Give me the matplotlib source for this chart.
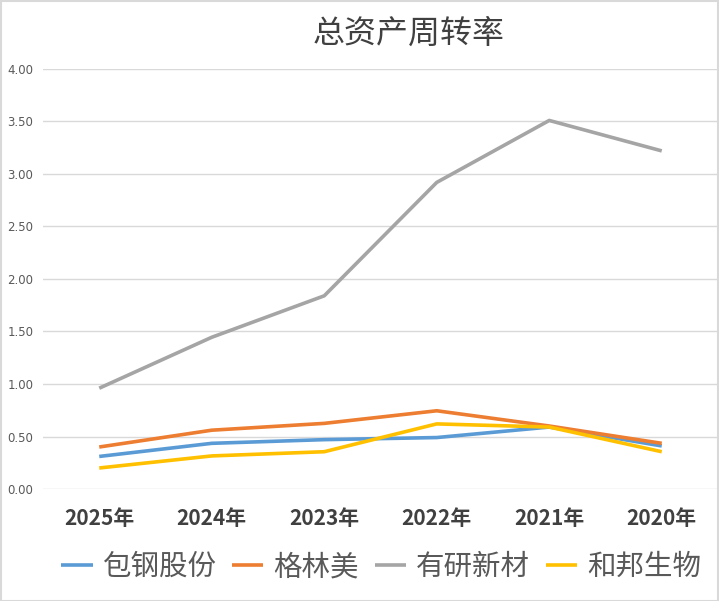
"""Recreate the total asset turnover line chart (总资产周转率)."""

import matplotlib.pyplot as plt
from matplotlib.patches import Rectangle

YEARS = ["2025年", "2024年", "2023年", "2022年", "2021年", "2020年"]
BAOGANG = [0.31, 0.435, 0.47, 0.49, 0.59, 0.41]
GEM = [0.40, 0.56, 0.625, 0.745, 0.60, 0.435]
YOUYAN = [0.96, 1.445, 1.84, 2.92, 3.51, 3.22]
HEBANG = [0.20, 0.315, 0.355, 0.62, 0.59, 0.355]

SERIES = [
    ("包钢股份", BAOGANG, "#5B9BD5"),
    ("格林美", GEM, "#ED7D31"),
    ("有研新材", YOUYAN, "#A5A5A5"),
    ("和邦生物", HEBANG, "#FFC000"),
]
Y_TICKS = [0.0, 0.5, 1.0, 1.5, 2.0, 2.5, 3.0, 3.5, 4.0]

plt.rcParams["font.family"] = ["Noto Sans CJK SC", "DejaVu Sans"]

W, H = 719, 601
fig = plt.figure(figsize=(W / 100, H / 100), dpi=100)
ax = fig.add_axes([43 / W, 112 / H, (718 - 43) / W, (489 - 69) / H])

x = list(range(len(YEARS)))
for name, values, color in SERIES:
    ax.plot(x, values, color=color, linewidth=2.6, label=name, solid_capstyle="butt")

ax.set_xlim(-0.5, len(YEARS) - 0.5)
ax.set_ylim(0, 4)
ax.set_yticks(Y_TICKS)
ax.set_yticklabels([f"{v:.2f}" for v in Y_TICKS], color="#595959", fontsize=8.5,
                   family=["DejaVu Sans"])
ax.set_xticks(x)
ax.set_xticklabels(YEARS, fontsize=15, fontweight="bold", color="#404040")
ax.tick_params(axis="both", length=0)
ax.tick_params(axis="x", pad=14)
ax.tick_params(axis="y", pad=7)
ax.grid(axis="y", color="#D9D9D9", linewidth=1.0)
ax.set_axisbelow(True)
for spine in ax.spines.values():
    spine.set_visible(False)

fig.text(409 / W, 1 - 34 / H, "总资产周转率", ha="center", va="center",
         fontsize=23, color="#404040")

fig.legend(loc="center", bbox_to_anchor=(381 / W, 1 - 567 / H), ncol=4,
           frameon=False, fontsize=20.5, handlelength=1.1, handletextpad=0.35,
           columnspacing=0.55, borderpad=0.2, labelcolor="#595959")

fig.patches.append(Rectangle((0.5 / W, 0.5 / H), 1 - 1.5 / W, 1 - 1.5 / H,
                             transform=fig.transFigure, fill=False,
                             edgecolor="#D9D9D9", linewidth=1.5))

fig.savefig("out.png", dpi=100)
